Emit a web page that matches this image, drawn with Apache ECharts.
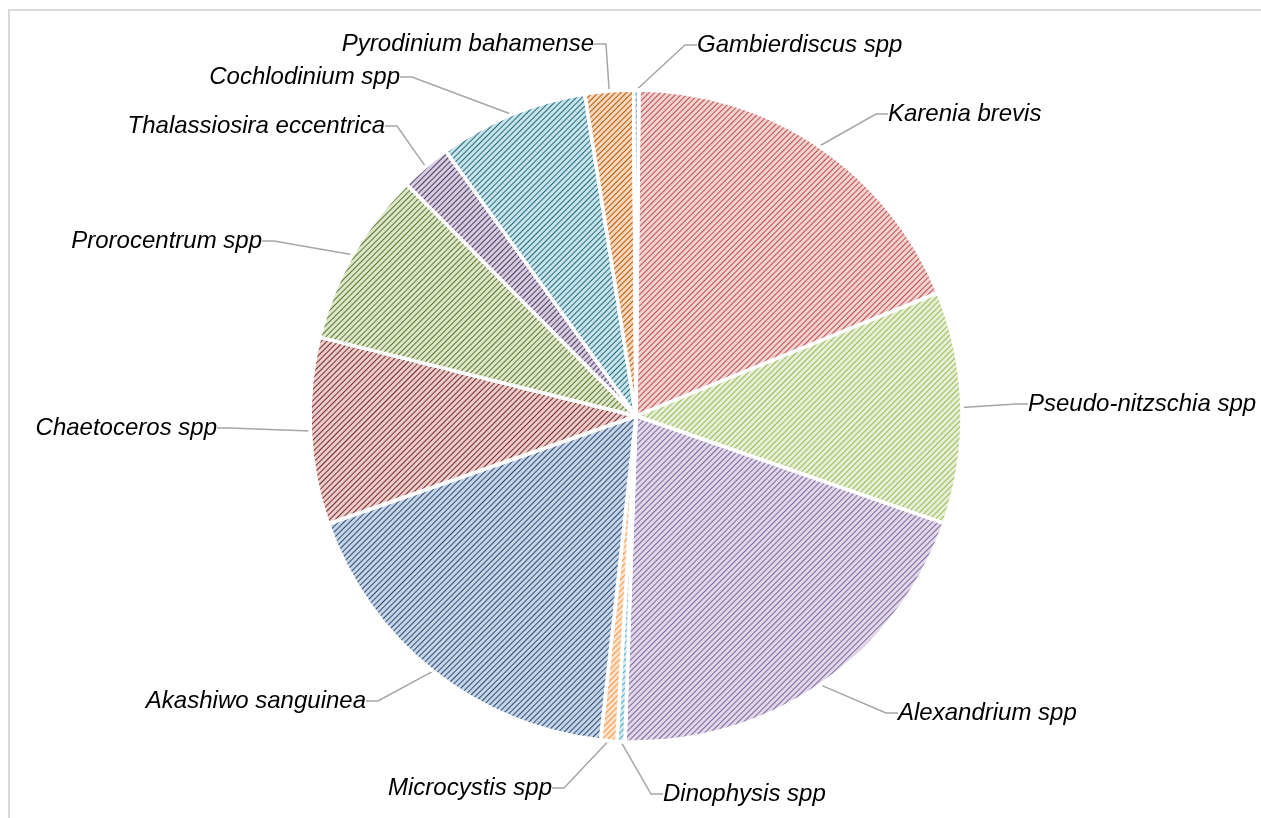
<!DOCTYPE html>
<html>
<head>
<meta charset="utf-8">
<script src="https://cdn.jsdelivr.net/npm/echarts@6/dist/echarts.min.js"></script>
<style>
html,body{margin:0;padding:0;background:#fff;}
#frame{position:absolute;left:8px;top:9px;width:1400px;height:900px;border-left:2px solid #d9d9d9;border-top:2px solid #d9d9d9;box-sizing:border-box;}
#chart{position:absolute;left:0;top:0;width:1261px;height:818px;}
</style>
</head>
<body>
<div id="frame"></div>
<div id="chart"></div>
<script>
const categories = ["Karenia brevis","Pseudo-nitzschia spp","Alexandrium spp","Dinophysis spp","Microcystis spp","Akashiwo sanguinea","Chaetoceros spp","Prorocentrum spp","Thalassiosira eccentrica","Cochlodinium spp","Pyrodinium bahamense","Gambierdiscus spp"];
const values = [18.7, 11.5, 20.2, 0.4, 0.8, 17.9, 9.25, 8.7, 2.5, 7.4, 2.4, 0.25];
const stripeColors = ["#c0504d","#9bbb59","#8064a2","#4bacc6","#f79646","#2c4d75","#772c2a","#5f7530","#4d3b62","#276a7c","#b65708","#4f81bd"];
const tintColors = ["#f2d2d1","#e6eed5","#e0d8e8","#d2e9f1","#fde2cc","#c6d4e8","#ecccca","#dce6c8","#d5cce0","#c7e3ec","#fbd8bb","#cad9ee"];
// label placement (manual placement as in the original chart): [x, y, align]
const labelPlacement = [
  [888, 114, 'left'], [1028, 404, 'left'], [898, 713, 'left'], [663, 794, 'left'],
  [552, 788, 'right'], [366, 701, 'right'], [217, 428, 'right'], [262, 241, 'right'],
  [385, 126, 'right'], [400, 77, 'right'], [594, 44, 'right'], [697, 45, 'left']
];

const chart = echarts.init(document.getElementById('chart'), null, {renderer:'canvas'});
const data = categories.map((c,i)=>({
  name:c, value:values[i],
  itemStyle:{
    color:tintColors[i],
    decal:{symbol:'rect',symbolSize:1,dashArrayX:[1,0],dashArrayY:[1,3],rotation:-Math.PI/4,color:stripeColors[i],backgroundColor:tintColors[i]}
  }
}));
chart.setOption({
  animation:false,
  aria:{enabled:true,decal:{show:true}},
  series:[{
    type:'pie',
    center:[636,416],
    radius:[0,326],
    startAngle:89.5,
    clockwise:true,
    avoidLabelOverlap:false,
    itemStyle:{borderColor:'#fff',borderWidth:3.5},
    label:{show:true,position:'outside',formatter:'{b}',fontFamily:'Liberation Sans, Arial, sans-serif',fontStyle:'italic',fontSize:24,color:'#000'},
    labelLine:{show:true,length:45,length2:12,smooth:false,lineStyle:{color:'#a6a6a6',width:1.5}},
    labelLayout:function(p){
      const lp = labelPlacement[p.dataIndex];
      return {x:lp[0], y:lp[1], align:lp[2], verticalAlign:'middle', hideOverlap:false, moveOverlap:false};
    },
    emphasis:{disabled:true},
    data:data
  }]
});
</script>
</body>
</html>
